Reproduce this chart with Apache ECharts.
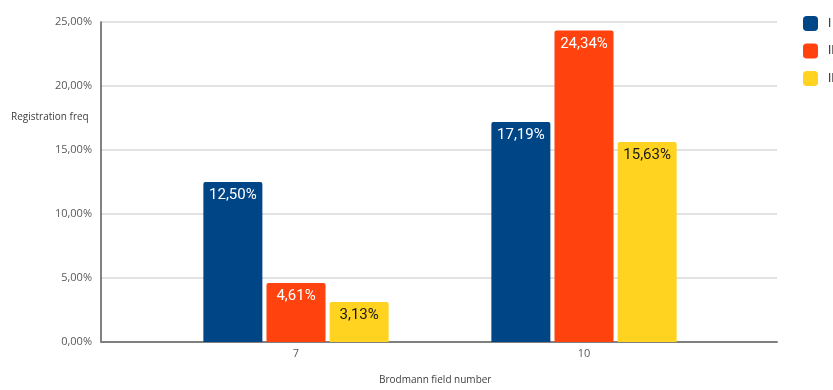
<!DOCTYPE html>
<html>
<head>
<meta charset="utf-8">
<script src="https://cdn.jsdelivr.net/npm/echarts@6/dist/echarts.min.js"></script>
<style>
  html, body { margin: 0; padding: 0; background: #ffffff; }
  #chart { width: 833px; height: 390px; }
</style>
</head>
<body>
<div id="chart"></div>
<script>
// Brodmann fields on the x axis, registration frequency (%) per group
const categories = ['7', '10'];
const seriesNames = ['I', 'II', 'III'];
const valuesI = [12.50, 17.19];
const valuesII = [4.61, 24.34];
const valuesIII = [3.13, 15.63];
const yTicks = [0, 5, 10, 15, 20, 25];

const colors = ['#004586', '#FF420E', '#FFD320'];
const labelColors = ['#ffffff', '#ffffff', '#1a1a1a'];
const seriesValues = [valuesI, valuesII, valuesIII];

const fmtPct = v => v.toFixed(2).replace('.', ',') + '%';

const chart = echarts.init(document.getElementById('chart'), null, { renderer: 'canvas' });

const axisFont = { fontFamily: 'Open Sans, Liberation Sans, sans-serif', fontSize: 11, color: '#595959' };

const option = {
  animation: false,
  backgroundColor: '#ffffff',
  grid: [
    // frame grid: y axis, gridlines and baseline
    { left: 101, right: 56, top: 22, bottom: 48 },
    // bar grid: narrower band so the two groups sit where they belong
    { left: 152, right: 105, top: 22, bottom: 48 }
  ],
  legend: {
    orient: 'vertical',
    left: 798,
    top: 11,
    itemWidth: 15,
    itemHeight: 15,
    itemGap: 12.5,
    icon: 'roundRect',
    data: seriesNames,
    textStyle: { fontFamily: 'Roboto, sans-serif', fontSize: 12, color: '#333333', padding: [0, 0, 0, 5] }
  },
  graphic: [
    {
      type: 'text', left: 11, top: 112,
      style: { text: 'Registration freq', font: '10px "Open Sans", sans-serif', fill: '#404040' }
    },
    {
      type: 'text', left: 379, top: 375,
      style: { text: 'Brodmann field number', font: '10px "Open Sans", sans-serif', fill: '#404040' }
    }
  ],
  xAxis: [
    {
      type: 'category', gridIndex: 0, data: categories,
      axisLine: { lineStyle: { color: '#808080', width: 2 } },
      axisTick: { show: false },
      axisLabel: { show: false }
    },
    {
      type: 'category', gridIndex: 1, data: categories,
      axisLine: { show: false },
      axisTick: { show: false },
      axisLabel: { margin: 6, fontFamily: 'Open Sans, sans-serif', fontSize: 11, color: '#595959' }
    }
  ],
  yAxis: [
    {
      type: 'value', gridIndex: 0,
      min: yTicks[0], max: yTicks[yTicks.length - 1], interval: 5,
      axisLine: { show: true, lineStyle: { color: '#595959', width: 1.5 } },
      axisTick: { show: false },
      splitLine: { lineStyle: { color: '#d9d9d9', width: 1.5 } },
      axisLabel: Object.assign({ margin: 9, formatter: v => fmtPct(v) }, axisFont)
    },
    {
      type: 'value', gridIndex: 1,
      min: yTicks[0], max: yTicks[yTicks.length - 1], interval: 5,
      show: false
    }
  ],
  series: seriesNames.map((name, i) => ({
    name: name,
    type: 'bar',
    xAxisIndex: 1,
    yAxisIndex: 1,
    data: seriesValues[i],
    barWidth: 59,
    barGap: '7%',
    itemStyle: { color: colors[i], borderRadius: [2, 2, 0, 0] },
    label: {
      show: true,
      position: 'insideTop',
      distance: 6,
      formatter: p => fmtPct(p.value),
      fontFamily: 'Roboto, sans-serif',
      fontSize: 15,
      color: labelColors[i]
    }
  }))
};

chart.setOption(option);
</script>
</body>
</html>
